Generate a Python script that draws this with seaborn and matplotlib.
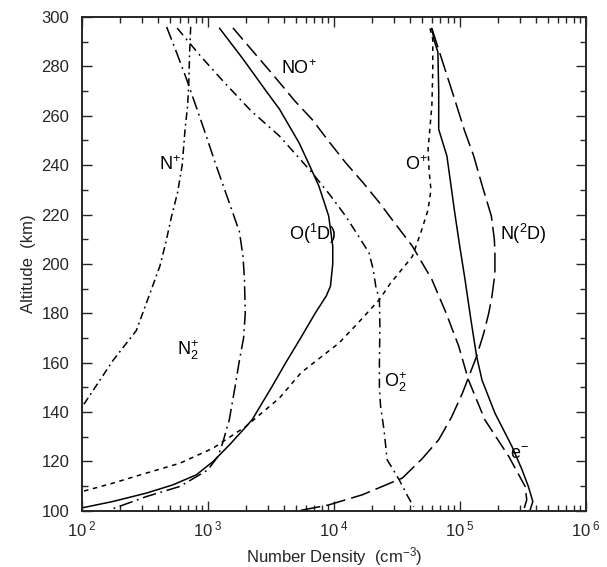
import numpy as np
import pandas as pd
import seaborn as sns
import matplotlib
matplotlib.use("Agg")
import matplotlib.pyplot as plt
from matplotlib.ticker import FixedLocator, FuncFormatter, LogLocator, MultipleLocator

# altitude (km) / number density (cm-3), top to bottom
n_plus_alt = [296, 285, 273, 264, 255, 240, 229, 219, 209, 199, 186, 173, 161, 152, 142]
n_plus_den = [730, 715, 705, 690, 660, 625, 575, 513, 465, 415, 335, 270, 177, 135, 100]

n2_plus_alt = [296, 285, 275, 265, 256, 240, 226, 213, 203, 194, 180, 170, 161, 150, 137, 127.5,
               122, 116.6, 109.9, 105.8, 100.4]
n2_plus_den = [470, 570, 675, 790, 910, 1160, 1450, 1780, 1900, 1950, 1980, 1920, 1780, 1640, 1480,
               1310, 1200, 1000, 600, 325, 166]

o2_plus_alt = [295.5, 284, 273.5, 262, 251.8, 237, 228, 219.4, 211, 204.5, 198, 191, 185.6, 175,
               160, 150, 142.3, 132.9, 120.7, 112.6, 106, 101.7]
o2_plus_den = [570, 880, 1350, 2200, 3700, 6700, 9300, 12400, 15800, 19000, 20500, 21500, 23000,
               23200, 23000, 23000, 23500, 25000, 26500, 33000, 38500, 43000]

o1d_alt = [295.5, 283, 270, 262.7, 249, 240, 231.6, 219.4, 207.2, 200, 191, 187, 180, 170, 160, 150,
           137, 134, 127, 120, 114.6, 110.5, 107.2, 103.8, 101.2]
o1d_den = [1235, 1900, 2900, 3700, 5300, 6400, 7600, 9100, 9800, 9800, 9400, 8700, 7100, 5450, 4150,
           3200, 2250, 2000, 1500, 1100, 810, 525, 325, 176, 100]

no_plus_alt = [295.6, 287, 279, 273.5, 266, 258.6, 250, 241, 233, 224.8, 216, 207.2, 193.7, 180,
               166.7, 153.1, 136.9, 122, 109.9, 104.5, 100]
no_plus_den = [1580, 2200, 3000, 3700, 4900, 6700, 9000, 12400, 17000, 23000, 31000, 42000, 60000,
               78000, 98000, 117000, 158000, 245000, 330000, 340000, 320000]

e_alt = [295.4, 290, 285.8, 270, 254.5, 243.7, 232, 221, 207, 193.7, 178, 162.6, 153, 139.6, 126,
         117, 109.9, 103.8, 100]
e_den = [59800, 63000, 67000, 68000, 68000, 79000, 85000, 91000, 100000, 110000, 122000, 136000,
         150000, 190000, 260000, 310000, 350000, 380000, 360000]

n2d_alt = [295.4, 280, 266.7, 254, 243.7, 232, 219.4, 210, 204.7, 196, 187, 180.2, 172, 162.6, 147.7,
           138, 128.8, 121, 113.3, 106.5, 102.4, 100]
n2d_den = [60000, 75000, 91000, 109000, 129000, 150000, 178000, 188000, 190000, 190000, 180000,
           170000, 155000, 136000, 105000, 86000, 68000, 50000, 35000, 16800, 9100, 5200]

o_plus_alt = [295.4, 291, 278, 264, 246.5, 238, 230, 222, 214, 203, 192, 185.6, 176, 168, 156, 145.7,
              134.2, 125.4, 119.3, 115.3, 111, 107.8]
o_plus_den = [58000, 61000, 61000, 60000, 56000, 57000, 59000, 56000, 50000, 42000, 28000, 23000,
              15500, 11000, 5500, 3700, 2000, 1100, 600, 325, 170, 100]

curves = [
    (n_plus_den, n_plus_alt, (0, (5, 2.5, 1.2, 2.5))),
    (n2_plus_den, n2_plus_alt, (0, (9, 3, 1.2, 3))),
    (o2_plus_den, o2_plus_alt, (0, (6, 3, 1.2, 3))),
    (o1d_den, o1d_alt, "-"),
    (no_plus_den, no_plus_alt, (0, (10, 4))),
    (e_den, e_alt, "-"),
    (n2d_den, n2d_alt, (0, (13, 4))),
    (o_plus_den, o_plus_alt, (0, (3, 3))),
]

labels = [
    ("N$^{+}$", 497, 240.4),
    ("N$_{2}^{+}$", 690, 165),
    ("O$_{2}^{+}$", 31000, 152),
    ("O($^{1}$D)", 6800, 212),
    ("NO$^{+}$", 5300, 279),
    ("e$^{-}$", 2.95e5, 123),
    ("N($^{2}$D)", 3.2e5, 212),
    ("O$^{+}$", 4.5e4, 240.4),
]

sns.set_style("ticks")
plt.rcParams["font.family"] = ["Liberation Sans", "DejaVu Sans"]
plt.rcParams["mathtext.fontset"] = "custom"
plt.rcParams["mathtext.rm"] = "Liberation Sans"
plt.rcParams["mathtext.it"] = "Liberation Sans:italic"

fig = plt.figure(figsize=(6.07, 5.67), dpi=100)
ax = fig.add_axes([0.135, 0.099, 0.83, 0.871])

for den, alt, ls in curves:
    df = pd.DataFrame({"den": den, "alt": alt})
    sns.lineplot(data=df, x="den", y="alt", sort=False, estimator=None,
                 color="black", linewidth=1.1, linestyle=ls, ax=ax)

for txt, x, y in labels:
    ax.text(x, y, txt, fontsize=13, ha="center", va="center", color="black")

ax.set_xscale("log")
ax.set_xlim(1e2, 1e6)
ax.set_ylim(100, 300)
ax.xaxis.set_major_locator(FixedLocator([1e2, 1e3, 1e4, 1e5, 1e6]))
ax.xaxis.set_minor_locator(LogLocator(base=10, subs=np.arange(2, 10)))
ax.xaxis.set_major_formatter(FuncFormatter(lambda v, p: "10$^{\\ %d}$" % round(np.log10(v))))
ax.yaxis.set_major_locator(MultipleLocator(20))
ax.yaxis.set_minor_locator(MultipleLocator(10))

ax.tick_params(which="both", direction="in", top=True, right=True, width=1.0, labelsize=12)
ax.tick_params(which="major", length=7)
ax.tick_params(which="minor", length=4)
ax.tick_params(axis="x", pad=6)
ax.tick_params(axis="y", pad=9)
for s in ax.spines.values():
    s.set_linewidth(1.4)

ax.set_xlabel("Number Density  (cm$^{-3}$)", fontsize=12, labelpad=4)
ax.set_ylabel("Altitude  (km)", fontsize=12, labelpad=4)

fig.savefig("out.png", dpi=100)
